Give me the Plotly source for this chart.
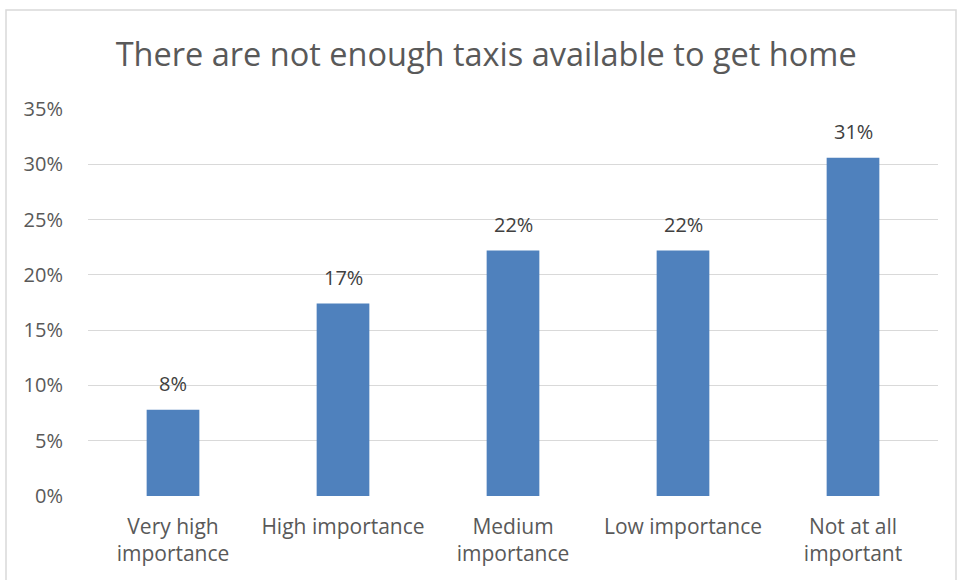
import plotly.graph_objects as go

categories = ["Very high<br>importance", "High importance", "Medium<br>importance",
              "Low importance", "Not at all<br>important"]
values = [0.078, 0.174, 0.222, 0.222, 0.306]
labels = ["8%", "17%", "22%", "22%", "31%"]
tick_vals = [0, 0.05, 0.10, 0.15, 0.20, 0.25, 0.30, 0.35]
tick_text = ["0%", "5%", "10%", "15%", "20%", "25%", "30%", "35%"]
title_text = "There are not enough taxis available to get home"

FONT = "Open Sans"
W, H = 957, 580
ML, MR, MT, MB = 88, 19, 109, 84
PW, PH = W - ML - MR, H - MT - MB

fig = go.Figure()
fig.add_trace(go.Bar(
    x=categories, y=values, marker=dict(color="#4f81bd", line=dict(width=0)),
    width=0.31, hoverinfo="skip",
))

for c, v, t in zip(categories, values, labels):
    fig.add_annotation(x=c, y=v, text=t, showarrow=False, yanchor="bottom",
                       yshift=11, font=dict(family=FONT, size=20, color="#404040"))

fig.update_layout(
    width=W, height=H,
    margin=dict(l=ML, r=MR, t=MT, b=MB, pad=0),
    paper_bgcolor="white", plot_bgcolor="white",
    showlegend=False,
    title=dict(text=title_text, x=0.508, xanchor="center", xref="container",
               y=1 - 55 / H, yanchor="middle", yref="container",
               font=dict(family=FONT, size=32.5, color="#595959")),
    xaxis=dict(showgrid=False, showline=False, ticks="", zeroline=False,
               tickfont=dict(family=FONT, size=21, color="#595959"),
               ticklabelstandoff=16),
    yaxis=dict(range=[0, 0.35], tickvals=tick_vals, ticktext=tick_text,
               showgrid=True, gridcolor="#d9d9d9", gridwidth=1.3,
               zeroline=False, showline=False, ticks="",
               tickfont=dict(family=FONT, size=20, color="#595959"),
               ticklabelstandoff=24),
    shapes=[dict(type="rect", xref="paper", yref="paper",
                 x0=(6 - ML) / PW, x1=(956 - ML) / PW,
                 y0=-0.5, y1=(H - MB - 10) / PH,
                 line=dict(color="#d9d9d9", width=1.5), fillcolor="rgba(0,0,0,0)",
                 layer="below")],
)

fig.write_html("out.html", config={"displayModeBar": False},
               post_script="document.body.style.margin='0';document.body.style.overflow='hidden';")
